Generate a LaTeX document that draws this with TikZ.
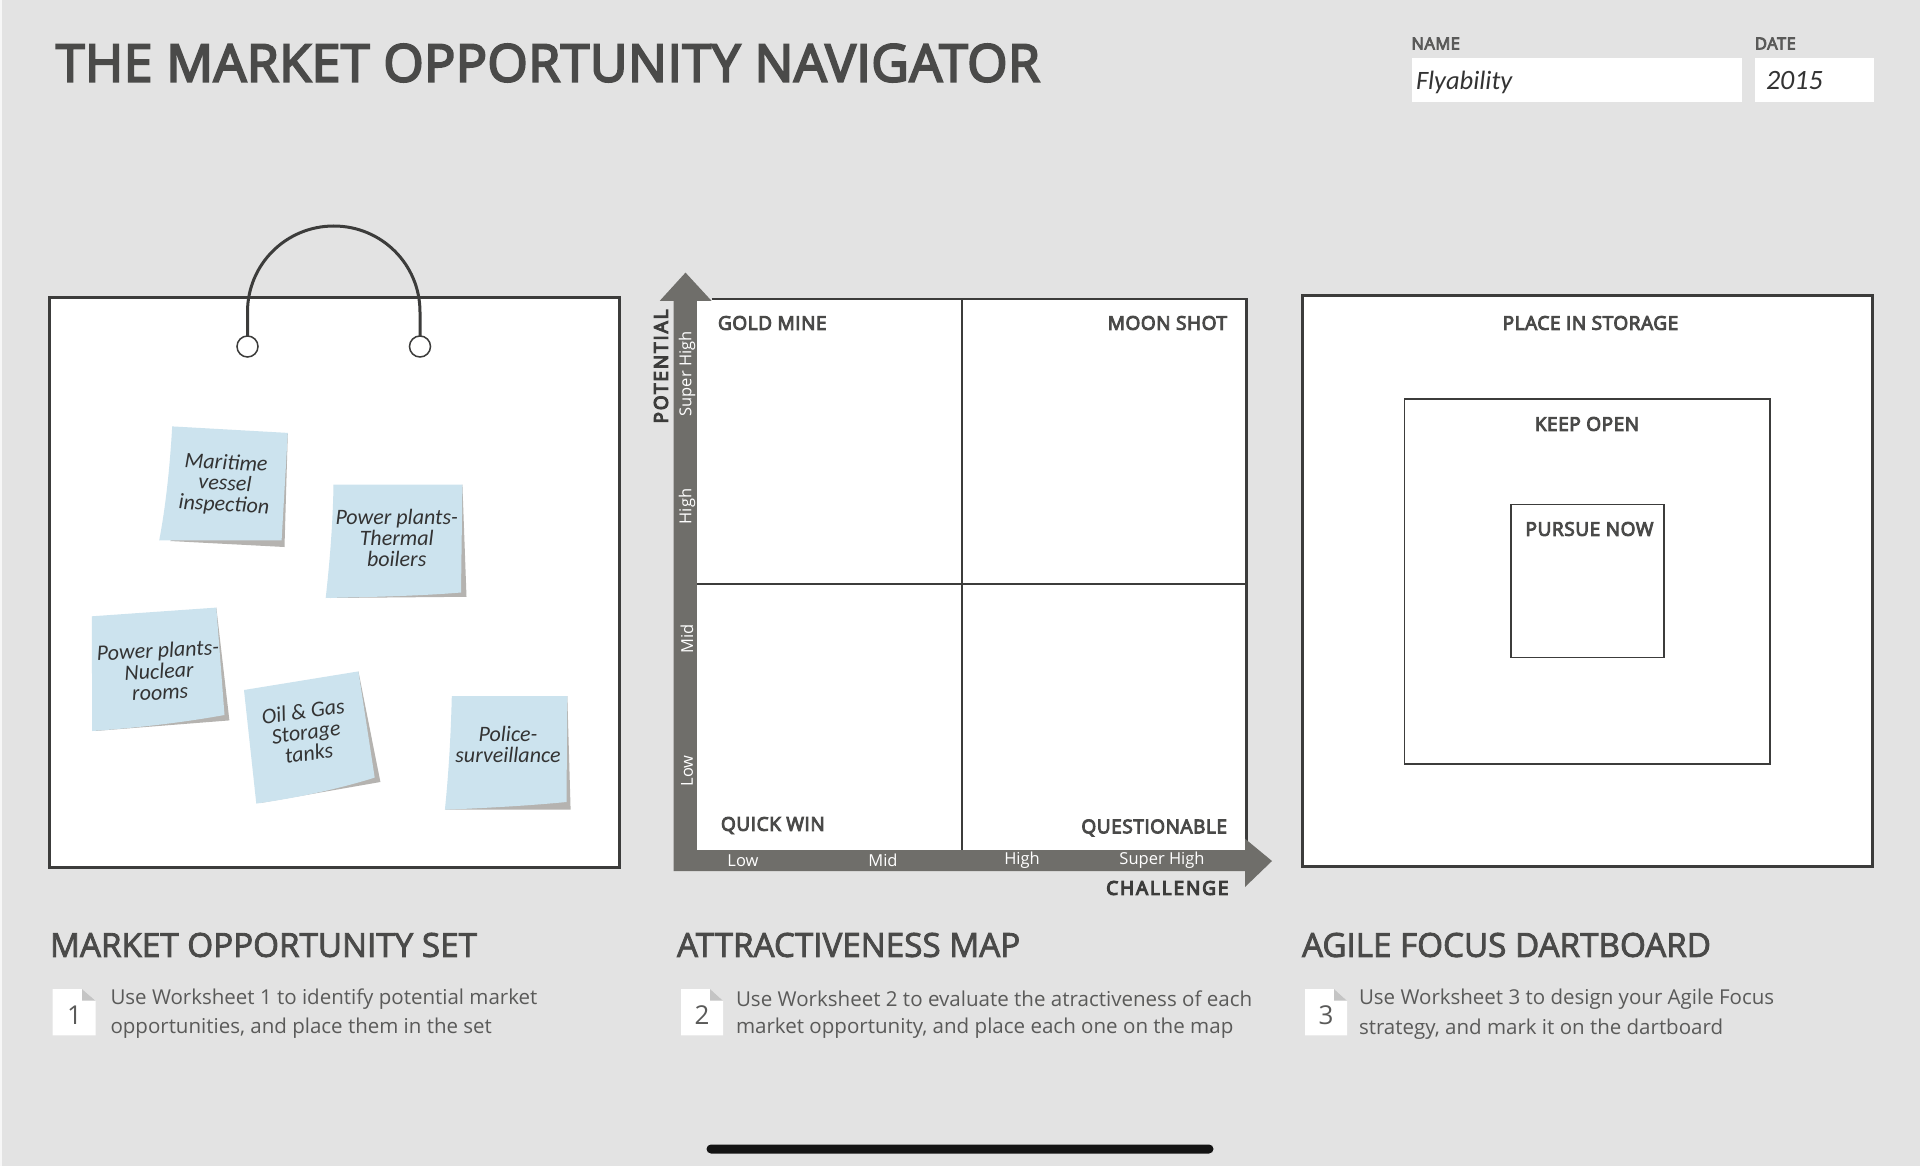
\documentclass[tikz,border=0pt]{standalone}
\usepackage{fontspec}
\setmainfont{Open Sans}
\newfontfamily\semi{Open Sans}[FakeBold=5,LetterSpace=3]
\newfontfamily\titlef{Open Sans}[FakeBold=4,LetterSpace=1]
\newfontfamily\head{Open Sans}[FakeBold=2.5]
\newfontfamily\semisp{Open Sans}[FakeBold=6,LetterSpace=10]
\newfontfamily\hand{Carlito}[ItalicFont=*-Italic]
\newcommand{\fsz}[1]{\fontsize{#1}{#1}\selectfont}
\newcommand{\fszl}[2]{\fontsize{#1}{#2}\selectfont}
\definecolor{pagebg}{HTML}{E3E3E3}
\definecolor{ink}{HTML}{3C3C3B}
\definecolor{txt}{HTML}{4A4A49}
\definecolor{soft}{HTML}{5A5A59}
\definecolor{arrowgrey}{HTML}{6F6E6A}
\definecolor{stickyblue}{HTML}{CCE3EE}
\definecolor{stickyshadow}{HTML}{B5B3B0}
\definecolor{foldgrey}{HTML}{C4C4C4}
\tikzset{
  txtn/.style={inner sep=0pt,outer sep=0pt,text=txt},
  panel/.style={draw=ink,fill=white,line width=3pt},
  thinbox/.style={draw=ink,fill=white,line width=1.5pt},
  gridline/.style={draw=ink,line width=1.8pt},
  heading/.style={txtn,anchor=west,font=\head\fsz{33.2}},
  body/.style={txtn,anchor=west,text=soft,font=\fsz{20.5}},
  label/.style={txtn,font=\semi\fsz{19}},
  axis/.style={txtn,text=ink,font=\semisp\fsz{19}},
  tick/.style={txtn,text=white,font=\fsz{16.5}},
  stickytext/.style={txtn,text=black!80,align=center,font=\hand\itshape\fszl{22}{21}},
  entry/.style={txtn,anchor=west,text=black!80,font=\hand\itshape\fsz{26.5}},
  fieldname/.style={txtn,anchor=west,text=soft,font=\semi\fsz{16.5}},
  field/.style={fill=white,draw=none},
  docnum/.style={txtn,text=soft,font=\fsz{26}},
}
\begin{document}
\begin{tikzpicture}[x=1pt,y=-1pt]
\useasboundingbox (0,0) rectangle (1920,1166);
\fill[pagebg] (0,0) rectangle (1920,1166);
\fill[white!70!pagebg] (0,0) rectangle (2,1166);

% header
\node[txtn,anchor=west,font=\titlef\fsz{51.7}] (title) at (56,63) {THE MARKET OPPORTUNITY NAVIGATOR};
\node[fieldname] (namelabel) at (1411.5,43.5) {NAME};
\node[fieldname] (datelabel) at (1755,43.5) {DATE};
\fill[field] (1411.5,58.5) rectangle (1742,102.5);
\fill[field] (1755,58.5) rectangle (1873.5,102.5);
\node[entry] (nameval) at (1416,82) {Flyability};
\node[entry,font=\hand\itshape\fsz{28}] (dateval) at (1766,81) {2015};

% left panel
\draw[panel] (49,297.5) rectangle (619.5,867.5);
\coordinate (hl) at (247.5,346.5);
\coordinate (hr) at (420,346.5);
\draw[ink,line width=3pt] (247.5,336) -- (247.5,312) .. controls (247.5,264.3) and (286.1,226) .. (333.8,226) .. controls (381.5,226) and (420,264.3) .. (420,312) -- (420,336);
\draw[ink,line width=1.5pt] (hl) circle[radius=10.5pt];
\draw[ink,line width=1.5pt] (hr) circle[radius=10.5pt];

% stickies
\fill[stickyshadow] (287.8,433) -- (284.5,547) -- (170,541) -- (240,500) -- cycle;
\fill[stickyblue] (172.2,426.4) -- (287.8,432.9) -- (281.6,540.4) -- (159.2,540.4) .. controls (166,505) and (170,465) .. (172.2,426.4) -- cycle;
\node[stickytext,rotate=-3] (s1) at (225,484.5) {Maritime\\vessel\\inspection};

\fill[stickyshadow] (462.4,484.5) -- (466.5,596.8) -- (330,598) -- (400,560) -- cycle;
\fill[stickyblue] (333.5,484.5) -- (462.4,484.5) -- (461,592.5) .. controls (420,596) and (370,597) .. (325.7,598) .. controls (330,560) and (333,520) .. (333.5,484.5) -- cycle;
\node[stickytext] (s2) at (396.7,538) {Power plants-\\Thermal\\boilers};

\fill[stickyshadow] (216.3,607.6) -- (229.4,720.4) -- (95,731) -- (170,670) -- cycle;
\fill[stickyblue] (91.8,616.3) -- (216.3,607.6) -- (224.5,715) .. controls (180,723) and (135,728) .. (92.2,731) -- cycle;
\node[stickytext,rotate=3] (s3) at (159,671) {Power plants-\\Nuclear\\rooms};

\fill[stickyshadow] (358.4,671.4) -- (380.4,782) -- (260,803) -- (320,730) -- cycle;
\fill[stickyblue] (244,690) -- (358.4,671.4) -- (374.7,777.6) .. controls (335,790) and (295,798) .. (256.3,803.6) -- cycle;
\node[stickytext,rotate=8] (s4) at (306,732) {Oil \& Gas\\Storage\\tanks};

\fill[stickyshadow] (567.3,696) -- (570.6,809.7) -- (445,809.7) -- (500,770) -- cycle;
\fill[stickyblue] (451.8,696) -- (567.3,696) -- (566.5,802) .. controls (525,806) and (485,808) .. (444.9,809.7) .. controls (449,770) and (451,730) .. (451.8,696) -- cycle;
\node[stickytext] (s5) at (508,744.5) {Police-\\surveillance};

% centre map
\fill[white] (696.8,300) rectangle (1246,850);
\draw[ink,line width=2.4pt] (711.5,298.8) -- (1246.5,298.8) -- (1246.5,842);
\draw[gridline] (962,300) -- (962,850);
\draw[gridline] (696.8,584) -- (1246,584);
\fill[arrowgrey] (673.7,871) -- (673.7,300.8) -- (659.8,300.8) -- (685.5,272.6) -- (711.5,300.8) -- (696.8,300.8) -- (696.8,850) -- (1245,850) -- (1245,838.7) -- (1272,861) -- (1245,887) -- (1245,871) -- cycle;

\node[axis,rotate=90] (pot) at (661,366.5) {POTENTIAL};
\node[axis,anchor=east] (cha) at (1228.5,888) {CHALLENGE};
\node[tick,rotate=90] (y4) at (687,374) {Super High};
\node[tick,rotate=90] (y3) at (687,506.5) {High};
\node[tick,rotate=90] (y2) at (687,639) {Mid};
\node[tick,rotate=90] (y1) at (687,771) {Low};
\node[tick] (x1) at (743,861) {Low};
\node[tick] (x2) at (883,860.5) {Mid};
\node[tick] (x3) at (1022,860.5) {High};
\node[tick] (x4) at (1162,860.5) {Super High};
\node[label,anchor=west] (gold) at (718,323) {GOLD MINE};
\node[label,anchor=east] (moon) at (1227,323) {MOON SHOT};
\node[label,anchor=west] (quick) at (721,825.5) {QUICK WIN};
\node[label,anchor=east] (quest) at (1227,828) {QUESTIONABLE};

% right panel
\draw[panel] (1302,295.5) rectangle (1872,866);
\draw[thinbox] (1404.5,399) rectangle (1770,764);
\draw[thinbox] (1511,504.5) rectangle (1664,657.5);
\node[label] (place) at (1590.5,323) {PLACE IN STORAGE};
\node[label] (keep) at (1587,424) {KEEP OPEN};
\node[label] (pursue) at (1589.5,529) {PURSUE NOW};

% captions
\node[heading] (h1) at (50,945) {MARKET OPPORTUNITY SET};
\node[heading] (h2) at (677,945) {ATTRACTIVENESS MAP};
\node[heading] (h3) at (1302,945) {AGILE FOCUS DARTBOARD};

\fill[white] (52.7,989) -- (82,989) -- (95.5,1000.7) -- (95.5,1035.3) -- (52.7,1035.3) -- cycle;
\fill[foldgrey] (82,989) -- (95.5,1000.7) -- (82,1000.7) -- cycle;
\node[docnum] (n1) at (74.5,1015.5) {1};
\fill[white] (681,989) -- (710,989) -- (723,1000.7) -- (723,1035.3) -- (681,1035.3) -- cycle;
\fill[foldgrey] (710,989) -- (723,1000.7) -- (710,1000.7) -- cycle;
\node[docnum] (n2) at (702,1015.5) {2};
\fill[white] (1305,989) -- (1334,989) -- (1347,1000.7) -- (1347,1035.3) -- (1305,1035.3) -- cycle;
\fill[foldgrey] (1334,989) -- (1347,1000.7) -- (1334,1000.7) -- cycle;
\node[docnum] (n3) at (1326,1015.5) {3};

\node[body] (t1a) at (110.5,999) {Use Worksheet 1 to identify potential market};
\node[body] (t1b) at (110.5,1028.5) {opportunities, and place them in the set};
\node[body,font=\fsz{20.55}] (t2a) at (736,998.5) {Use Worksheet 2 to evaluate the atractiveness of each};
\node[body,font=\fsz{20.55}] (t2b) at (736,1028.5) {market opportunity, and place each one on the map};
\node[body] (t3a) at (1359,999) {Use Worksheet 3 to design your Agile Focus};
\node[body] (t3b) at (1359,1029) {strategy, and mark it on the dartboard};

% home indicator
\fill[black!92,rounded corners=4.5pt] (706.5,1144.5) rectangle (1213.5,1153.5);
\end{tikzpicture}
\end{document}
